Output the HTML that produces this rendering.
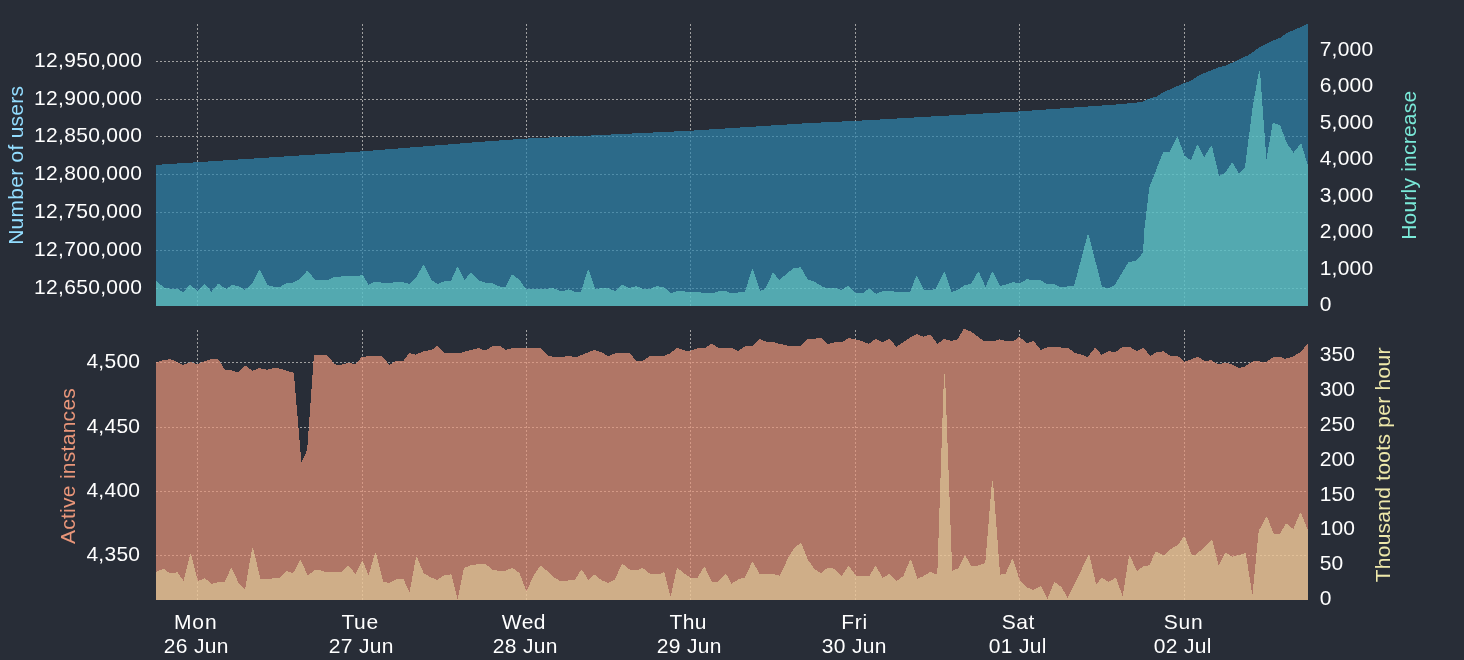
<!DOCTYPE html><html><head><meta charset="utf-8"><title>Mastodon stats</title><style>
html,body{margin:0;padding:0;background:#282d37;}body{width:1464px;height:660px;overflow:hidden;}svg{display:block;will-change:transform;}text{font-family:"Liberation Sans",sans-serif;font-size:21px;}
</style></head><body>
<svg width="1464" height="660" viewBox="0 0 1464 660">
<g stroke="#a0a0a0" stroke-width="1" stroke-dasharray="2,2" shape-rendering="crispEdges">
<line x1="197.5" y1="24" x2="197.5" y2="306"/>
<line x1="197.5" y1="330" x2="197.5" y2="600"/>
<line x1="362.5" y1="24" x2="362.5" y2="306"/>
<line x1="362.5" y1="330" x2="362.5" y2="600"/>
<line x1="526.5" y1="24" x2="526.5" y2="306"/>
<line x1="526.5" y1="330" x2="526.5" y2="600"/>
<line x1="690.5" y1="24" x2="690.5" y2="306"/>
<line x1="690.5" y1="330" x2="690.5" y2="600"/>
<line x1="855.5" y1="24" x2="855.5" y2="306"/>
<line x1="855.5" y1="330" x2="855.5" y2="600"/>
<line x1="1019.5" y1="24" x2="1019.5" y2="306"/>
<line x1="1019.5" y1="330" x2="1019.5" y2="600"/>
<line x1="1184.5" y1="24" x2="1184.5" y2="306"/>
<line x1="1184.5" y1="330" x2="1184.5" y2="600"/>
<line x1="156" y1="61.5" x2="1308" y2="61.5"/>
<line x1="156" y1="99.5" x2="1308" y2="99.5"/>
<line x1="156" y1="136.5" x2="1308" y2="136.5"/>
<line x1="156" y1="174.5" x2="1308" y2="174.5"/>
<line x1="156" y1="212.5" x2="1308" y2="212.5"/>
<line x1="156" y1="250.5" x2="1308" y2="250.5"/>
<line x1="156" y1="288.5" x2="1308" y2="288.5"/>
<line x1="156" y1="362.5" x2="1308" y2="362.5"/>
<line x1="156" y1="427.5" x2="1308" y2="427.5"/>
<line x1="156" y1="491.5" x2="1308" y2="491.5"/>
<line x1="156" y1="555.5" x2="1308" y2="555.5"/>
</g>
<g shape-rendering="crispEdges">
<polygon points="156.0,306.0 156.0,164.9 362.0,151.4 480.0,141.9 526.0,138.6 691.0,130.7 810.0,123.0 855.5,120.9 1019.6,111.4 1120.0,104.2 1142.7,101.9 1148.8,98.8 1156.4,96.6 1163.9,92.0 1184.4,82.9 1191.2,80.7 1198.8,75.4 1218.5,67.3 1226.0,65.5 1235.2,61.3 1248.8,54.9 1259.4,47.3 1271.5,41.3 1280.6,37.5 1286.7,32.9 1295.8,29.2 1308.0,23.8 1308.0,306.0" fill="#2e85ad" fill-opacity="0.7"/>
<polygon points="156.0,306.0 156.0,280.8 160.1,284.2 164.1,287.9 170.9,288.7 177.0,288.5 183.0,292.1 189.8,285.1 190.8,285.1 197.3,290.9 204.0,284.0 205.0,284.0 211.4,291.8 217.9,284.0 218.9,284.0 224.9,288.2 226.6,288.8 231.7,285.1 238.5,286.0 245.0,289.9 252.6,282.8 259.0,269.9 260.0,269.9 267.2,284.9 274.0,286.8 280.7,286.5 286.7,283.1 292.6,282.8 299.9,278.9 306.9,271.0 307.9,271.0 315.1,279.8 328.6,279.8 334.2,277.0 340.4,276.6 342.1,276.1 348.3,275.8 359.0,275.8 362.4,274.4 368.6,284.9 375.4,281.5 383.3,282.8 392.3,282.8 396.2,281.7 403.5,282.3 409.2,284.0 416.5,276.6 423.1,265.0 424.1,265.0 431.5,280.0 437.9,284.0 444.7,281.1 450.9,280.9 457.1,267.0 458.1,267.0 464.4,279.7 470.9,273.0 471.9,273.0 479.0,280.8 486.3,282.8 492.5,283.4 500.4,286.8 505.5,286.8 511.8,274.9 512.8,274.9 519.0,279.4 526.4,289.6 533.1,288.5 539.9,289.0 546.6,288.7 553.4,288.2 560.2,290.9 563.5,290.9 568.1,289.4 571.4,290.2 575.9,292.1 581.0,291.8 587.8,269.9 588.8,269.9 595.1,289.0 601.9,288.2 608.6,288.5 615.4,290.9 621.9,285.1 622.9,285.1 628.9,288.2 635.7,286.2 636.7,286.2 643.5,289.0 650.3,288.7 656.5,286.2 663.8,287.1 670.6,293.0 677.9,291.1 684.1,291.3 686.4,292.1 696.5,291.6 703.3,293.0 714.5,292.7 719.0,291.1 725.2,290.5 730.3,293.0 737.1,293.0 738.8,292.1 745.0,291.8 752.0,269.1 753.0,269.1 760.2,290.9 765.2,289.0 772.6,273.0 773.6,273.0 779.3,280.0 787.8,272.7 794.0,268.0 800.7,267.3 807.8,279.7 814.2,281.5 822.7,286.8 827.2,288.2 834.5,287.6 841.3,289.9 847.9,286.0 848.9,286.0 855.4,292.7 863.8,292.7 868.7,288.7 869.7,288.7 876.2,293.9 882.4,291.3 889.7,290.9 898.2,292.1 910.0,292.1 916.1,276.1 917.1,276.1 924.1,289.9 935.4,289.4 943.9,272.1 944.9,272.1 951.7,292.1 957.9,289.9 964.7,285.1 970.9,284.0 977.9,272.1 978.9,272.1 985.5,286.8 992.0,272.1 993.0,272.1 1000.2,286.0 1006.4,284.5 1012.6,282.3 1020.4,283.1 1026.6,279.2 1033.4,280.0 1040.2,280.0 1046.9,284.2 1054.8,284.2 1059.9,286.8 1066.1,286.8 1067.8,286.0 1074.0,286.0 1087.6,234.9 1088.6,234.9 1102.0,286.6 1108.2,288.6 1114.3,285.5 1128.6,262.0 1135.8,260.9 1143.0,252.7 1144.4,229.2 1149.3,187.5 1163.0,152.3 1169.8,151.8 1176.8,137.0 1177.8,137.0 1184.5,155.7 1190.9,160.2 1197.0,145.0 1198.0,145.0 1204.3,157.3 1210.9,145.9 1211.9,145.9 1219.1,176.1 1225.0,172.7 1231.8,163.0 1232.8,163.0 1239.1,173.9 1244.8,168.2 1252.7,106.8 1259.0,70.9 1260.0,70.9 1266.4,159.5 1272.7,123.2 1273.7,123.2 1280.0,125.0 1286.8,143.2 1293.6,152.7 1300.4,143.9 1301.4,143.9 1308.0,165.9 1308.0,306.0" fill="#7ae9d8" fill-opacity="0.5"/>
<polygon points="156.0,600.0 156.0,362.3 163.5,360.0 170.3,359.2 177.0,361.9 183.2,364.9 190.1,362.3 191.1,362.3 197.3,364.0 204.1,361.5 211.4,359.2 218.2,359.0 224.9,369.8 231.7,370.2 238.1,372.7 245.0,366.0 246.0,366.0 252.6,370.9 258.8,368.2 259.8,368.2 267.2,369.8 274.0,368.0 280.7,368.7 286.9,370.7 293.8,372.9 301.4,462.0 307.1,450.3 313.9,355.3 327.3,355.3 334.7,364.4 340.4,364.9 348.3,362.8 355.1,364.0 362.4,356.6 375.4,356.3 382.1,356.1 389.5,364.9 396.2,360.6 403.5,360.6 409.2,353.2 415.9,354.7 423.8,351.0 431.2,350.2 436.9,346.1 437.9,346.1 444.1,352.9 461.0,352.7 467.8,350.7 470.0,350.4 478.0,348.2 479.0,348.2 485.2,350.7 492.5,346.1 499.9,346.1 506.1,349.9 512.3,348.0 540.4,348.0 548.3,355.8 554.5,357.0 563.5,357.0 567.5,355.5 574.3,357.0 577.6,356.6 587.2,352.7 594.0,350.2 595.0,350.2 601.3,352.1 608.1,356.1 615.4,353.2 622.2,352.7 629.5,352.9 636.2,360.8 643.0,360.6 649.7,356.1 663.8,355.8 669.4,353.8 676.8,348.0 677.8,348.0 685.2,350.7 690.9,350.7 697.6,348.2 705.5,348.0 710.9,343.9 711.9,343.9 719.0,348.0 731.4,347.6 738.0,351.0 745.5,346.1 752.3,346.1 758.9,339.2 759.9,339.2 766.9,342.0 773.1,342.0 776.5,343.1 790.0,346.1 800.7,346.1 807.5,339.4 821.3,338.0 827.8,343.9 835.1,342.3 841.8,342.5 848.6,338.0 855.4,339.4 862.1,341.2 868.9,343.9 875.2,339.2 876.2,339.2 882.4,342.0 888.7,339.2 889.7,339.2 896.5,346.8 903.3,342.0 910.0,337.5 916.3,334.1 917.3,334.1 923.0,336.7 929.8,334.9 930.8,334.9 937.4,343.9 943.9,339.2 944.9,339.2 951.2,340.9 957.3,339.7 963.6,329.0 964.6,329.0 970.9,331.5 983.8,340.9 995.1,340.9 999.6,339.4 1005.2,340.9 1013.7,340.9 1018.8,337.1 1019.8,337.1 1026.6,343.1 1032.9,341.2 1033.9,341.2 1040.7,349.9 1047.5,347.3 1067.8,347.6 1074.5,352.7 1080.7,354.4 1087.5,357.0 1094.9,348.0 1095.9,348.0 1101.6,354.9 1108.4,351.3 1115.6,351.8 1123.0,346.8 1129.7,347.0 1136.5,351.0 1143.0,348.2 1144.0,348.2 1150.0,356.1 1156.8,352.1 1163.5,351.3 1170.3,355.8 1177.3,355.5 1184.4,361.9 1191.1,359.4 1197.2,357.0 1198.2,357.0 1204.7,360.8 1211.4,360.3 1218.2,364.2 1225.0,362.8 1230.0,363.7 1232.3,364.5 1238.4,368.0 1244.0,367.1 1253.0,361.2 1259.7,361.2 1260.8,362.0 1266.4,362.0 1273.7,356.8 1280.4,356.8 1284.9,358.7 1290.5,357.5 1295.0,355.3 1300.6,351.9 1307.9,343.5 1308.0,600.0" fill="#E9967A" fill-opacity="0.7"/>
<polygon points="156.0,600.0 156.0,572.0 163.0,569.0 164.0,569.0 169.7,573.1 177.6,572.4 183.6,581.0 190.1,554.4 191.1,554.4 197.9,581.0 204.2,578.4 205.2,578.4 211.4,584.0 218.2,582.1 224.9,581.8 230.9,568.2 231.9,568.2 239.0,584.0 245.0,590.0 252.1,548.3 253.1,548.3 260.5,579.0 271.7,579.0 272.8,578.1 279.6,577.8 286.1,571.3 287.1,571.3 293.1,573.1 300.0,560.4 301.0,560.4 307.4,575.0 310.0,573.9 314.5,570.2 320.7,570.2 325.2,572.0 341.6,572.0 347.8,566.0 348.8,566.0 355.4,573.9 361.9,561.1 362.9,561.1 368.6,575.3 375.1,553.0 376.1,553.0 383.3,581.8 389.5,582.9 396.8,579.0 403.5,579.0 409.5,592.5 416.0,557.3 417.0,557.3 423.8,573.3 431.2,577.6 437.4,579.9 444.7,575.0 451.4,574.4 457.6,599.8 463.8,568.2 470.0,565.4 471.2,565.2 479.0,564.1 485.8,564.1 492.5,569.7 498.2,570.8 504.9,570.8 511.8,568.2 512.8,568.2 519.6,573.3 526.4,591.4 533.1,576.7 539.9,566.0 540.9,566.0 547.2,570.8 554.0,577.3 560.2,581.0 566.9,580.6 574.8,579.9 581.1,569.9 582.1,569.9 588.3,579.9 594.0,575.0 595.0,575.0 601.9,580.6 608.6,582.9 614.8,579.5 621.9,564.1 622.9,564.1 630.0,569.9 638.5,569.9 641.9,568.2 642.9,568.2 650.3,573.9 659.9,573.9 663.3,572.2 664.3,572.2 670.6,596.8 676.8,568.2 677.8,568.2 684.1,573.5 690.9,577.8 697.6,577.6 703.9,567.1 704.9,567.1 711.7,581.8 717.9,581.8 725.1,573.9 726.1,573.9 731.4,583.7 738.8,579.2 745.0,577.6 752.1,562.0 753.1,562.0 759.4,573.9 773.1,573.9 779.7,575.8 787.8,558.7 793.4,549.1 794.5,548.0 800.2,543.1 801.2,543.1 808.0,559.8 814.2,568.8 821.0,573.1 827.8,567.5 834.5,568.8 841.8,575.8 848.1,566.3 849.1,566.3 855.9,575.8 869.5,575.8 875.2,566.0 876.2,566.0 882.4,578.1 888.9,574.2 889.9,574.2 896.5,581.0 903.3,576.1 910.1,560.0 911.1,560.0 917.4,578.7 923.6,576.1 929.8,572.0 930.8,572.0 936.5,574.4 937.3,574.6 944.0,374.0 945.0,374.0 952.2,570.9 958.8,568.0 964.4,555.7 965.4,555.7 971.1,565.7 977.7,565.7 985.3,562.9 992.0,481.0 993.0,481.0 1000.1,574.6 1005.6,573.7 1012.0,559.2 1013.0,559.2 1019.6,580.1 1026.9,587.4 1033.1,590.0 1040.2,586.3 1041.2,586.3 1047.5,598.7 1054.0,582.3 1055.0,582.3 1061.3,586.8 1067.7,598.1 1088.4,555.3 1089.4,555.3 1096.2,584.6 1101.4,578.1 1102.4,578.1 1108.6,581.8 1115.1,578.1 1116.1,578.1 1122.7,596.4 1129.0,555.9 1130.0,555.9 1136.8,571.1 1143.6,566.0 1149.2,565.4 1155.8,551.5 1156.8,551.5 1163.9,555.7 1170.5,549.1 1177.6,545.2 1183.9,536.5 1184.9,536.5 1191.8,555.1 1195.7,554.6 1200.4,550.7 1211.3,540.0 1212.3,540.0 1218.6,565.7 1225.1,553.1 1226.1,553.1 1232.7,556.7 1239.0,555.1 1244.8,553.1 1245.8,553.1 1252.4,595.6 1258.7,531.0 1266.1,516.8 1267.1,516.8 1273.7,533.7 1280.0,533.7 1285.8,523.9 1286.8,523.9 1293.4,529.0 1300.0,512.9 1301.0,512.9 1308.0,530.2 1308.0,600.0" fill="#EEE8AA" fill-opacity="0.5"/>
</g>
<text x="34.05" y="67.30" fill="#ffffff" letter-spacing="0.315">12,950,000</text>
<text x="34.05" y="105.30" fill="#ffffff" letter-spacing="0.315">12,900,000</text>
<text x="34.05" y="142.30" fill="#ffffff" letter-spacing="0.315">12,850,000</text>
<text x="34.05" y="180.30" fill="#ffffff" letter-spacing="0.315">12,800,000</text>
<text x="34.05" y="218.30" fill="#ffffff" letter-spacing="0.315">12,750,000</text>
<text x="34.05" y="256.30" fill="#ffffff" letter-spacing="0.315">12,700,000</text>
<text x="34.05" y="294.30" fill="#ffffff" letter-spacing="0.315">12,650,000</text>
<text x="1319.65" y="311.30" fill="#ffffff" letter-spacing="0.239">0</text>
<text x="1319.65" y="274.83" fill="#ffffff" letter-spacing="0.239">1,000</text>
<text x="1319.65" y="238.36" fill="#ffffff" letter-spacing="0.239">2,000</text>
<text x="1319.65" y="201.89" fill="#ffffff" letter-spacing="0.239">3,000</text>
<text x="1319.65" y="165.42" fill="#ffffff" letter-spacing="0.239">4,000</text>
<text x="1319.65" y="128.95" fill="#ffffff" letter-spacing="0.239">5,000</text>
<text x="1319.65" y="92.48" fill="#ffffff" letter-spacing="0.239">6,000</text>
<text x="1319.65" y="56.01" fill="#ffffff" letter-spacing="0.239">7,000</text>
<text x="86.45" y="368.30" fill="#ffffff" letter-spacing="0.250">4,500</text>
<text x="86.45" y="433.30" fill="#ffffff" letter-spacing="0.250">4,450</text>
<text x="86.45" y="497.30" fill="#ffffff" letter-spacing="0.250">4,400</text>
<text x="86.45" y="561.30" fill="#ffffff" letter-spacing="0.250">4,350</text>
<text x="1319.80" y="605.05" fill="#ffffff" letter-spacing="0.092">0</text>
<text x="1319.80" y="570.20" fill="#ffffff" letter-spacing="0.092">50</text>
<text x="1319.80" y="535.35" fill="#ffffff" letter-spacing="0.092">100</text>
<text x="1319.80" y="500.50" fill="#ffffff" letter-spacing="0.092">150</text>
<text x="1319.80" y="465.65" fill="#ffffff" letter-spacing="0.092">200</text>
<text x="1319.80" y="430.80" fill="#ffffff" letter-spacing="0.092">250</text>
<text x="1319.80" y="395.95" fill="#ffffff" letter-spacing="0.092">300</text>
<text x="1319.80" y="361.10" fill="#ffffff" letter-spacing="0.092">350</text>
<text x="174.00" y="629.20" fill="#ffffff" letter-spacing="0.857">Mon</text>
<text x="341.45" y="629.20" fill="#ffffff" letter-spacing="0.619">Tue</text>
<text x="501.70" y="629.20" fill="#ffffff" letter-spacing="0.507">Wed</text>
<text x="669.50" y="629.20" fill="#ffffff" letter-spacing="0.362">Thu</text>
<text x="841.25" y="629.20" fill="#ffffff" letter-spacing="0.722">Fri</text>
<text x="1001.75" y="629.20" fill="#ffffff" letter-spacing="0.543">Sat</text>
<text x="1163.75" y="629.20" fill="#ffffff" letter-spacing="0.723">Sun</text>
<text x="163.75" y="653.10" fill="#ffffff" letter-spacing="0.331">26 Jun</text>
<text x="328.75" y="653.10" fill="#ffffff" letter-spacing="0.340">27 Jun</text>
<text x="492.75" y="653.10" fill="#ffffff" letter-spacing="0.331">28 Jun</text>
<text x="656.75" y="653.10" fill="#ffffff" letter-spacing="0.340">29 Jun</text>
<text x="821.75" y="653.10" fill="#ffffff" letter-spacing="0.349">30 Jun</text>
<text x="988.75" y="653.10" fill="#ffffff" letter-spacing="0.349">01 Jul</text>
<text x="1153.75" y="653.10" fill="#ffffff" letter-spacing="0.349">02 Jul</text>
<text transform="translate(23.20,244.80) rotate(-90)" fill="#93ddff" letter-spacing="0.256">Number of users</text>
<text transform="translate(1416.20,239.80) rotate(-90)" fill="#7ae9d8" letter-spacing="0.215">Hourly increase</text>
<text transform="translate(75.20,544.10) rotate(-90)" fill="#E9967A" letter-spacing="0.280">Active instances</text>
<text transform="translate(1390.20,582.35) rotate(-90)" fill="#EEE8AA" letter-spacing="0.270">Thousand toots per hour</text>
</svg></body></html>
